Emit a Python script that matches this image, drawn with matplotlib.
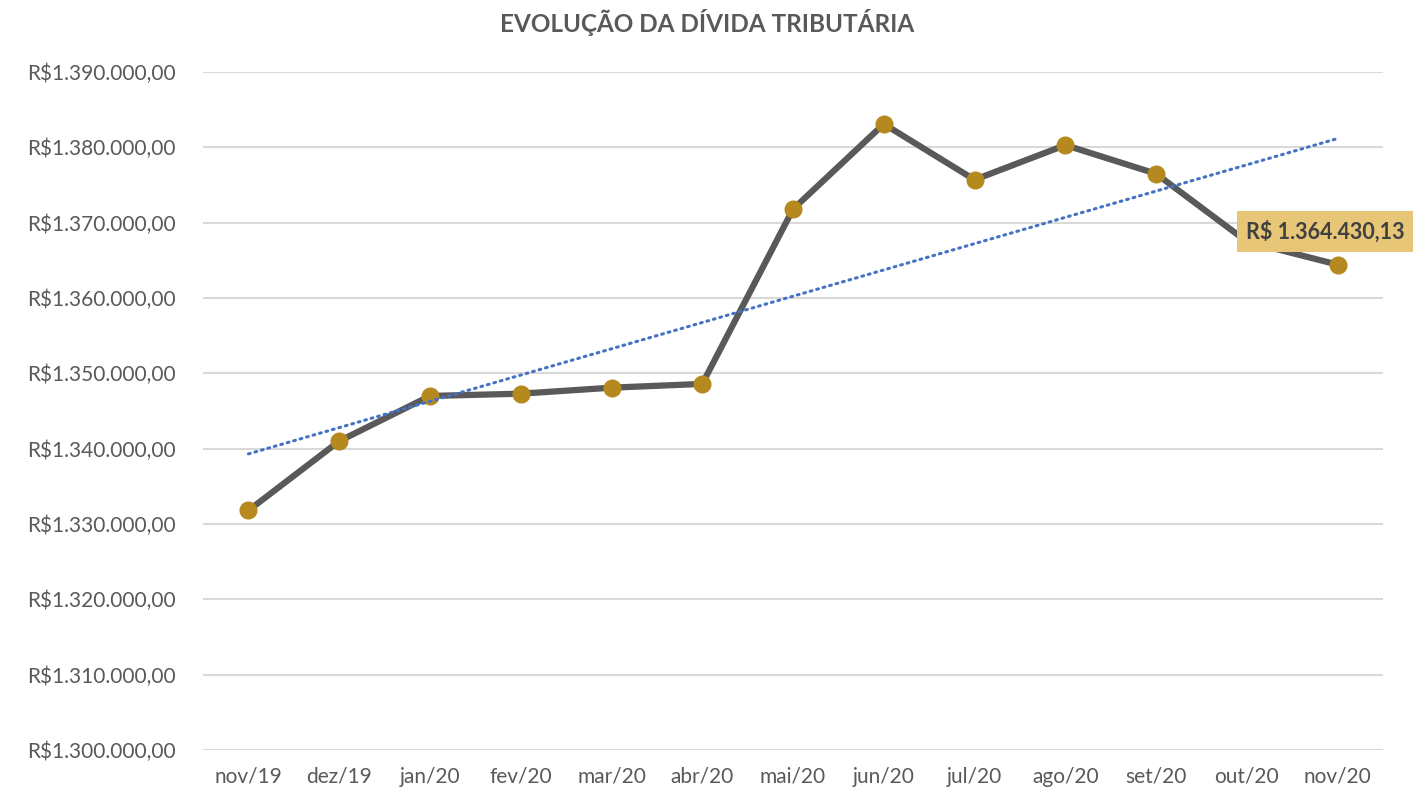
import numpy as np
import matplotlib.pyplot as plt
from matplotlib.ticker import FuncFormatter

months = ['nov/19', 'dez/19', 'jan/20', 'fev/20', 'mar/20', 'abr/20', 'mai/20',
          'jun/20', 'jul/20', 'ago/20', 'set/20', 'out/20', 'nov/20']
divida = [1331800, 1341000, 1347000, 1347300, 1348100, 1348600, 1371800,
          1383100, 1375700, 1380300, 1376500, 1367500, 1364430.13]
y_ticks = list(range(1300000, 1390001, 10000))

plt.rcParams['font.family'] = ['Lato', 'DejaVu Sans']

def brl(v, pos=None):
    s = f"{v:,.2f}".replace(',', 'X').replace('.', ',').replace('X', '.')
    return 'R$' + s

fig = plt.figure(figsize=(14.28, 7.95), dpi=100)
ax = fig.add_axes([0.1422, 0.0566, 0.8263, 0.8528])

x = np.arange(len(months))
ax.plot(x, divida, color='#595959', lw=4.5, marker='o', markersize=12,
        markerfacecolor='#B5891E', markeredgecolor='#B5891E', zorder=3)

# linear trendline
coef = np.polyfit(x, divida, 1)
ax.plot(x, np.polyval(coef, x), color='#4472C4', lw=2.2, linestyle=(0, (0.6, 1.6)),
        dash_capstyle='round', zorder=4)

ax.annotate(brl(divida[-1]).replace('R$', 'R$ '), xy=(x[-1], divida[-1]),
            xytext=(-9, 24), textcoords='offset points', ha='center', va='center',
            fontsize=15.5, fontweight='bold', color='#404040', zorder=6,
            bbox=dict(boxstyle='square,pad=0.42', fc='#E8C677', ec='none'))

ax.set_xlim(-0.5, len(months) - 0.5)
ax.set_ylim(1300000, 1390000)
ax.set_yticks(y_ticks)
ax.yaxis.set_major_formatter(FuncFormatter(brl))
ax.set_xticks(x)
ax.set_xticklabels(months)
ax.grid(axis='y', color='#D9D9D9', lw=1.5, zorder=0)
ax.set_axisbelow(True)
for s in ax.spines.values():
    s.set_visible(False)
ax.tick_params(length=0, labelsize=15, colors='#595959')
ax.tick_params(axis='y', pad=20)
ax.tick_params(axis='x', pad=12)

fig.text(0.495, 0.972, 'EVOLUÇÃO DA DÍVIDA TRIBUTÁRIA', ha='center', va='center',
         fontsize=17.5, fontweight='bold', color='#595959')

fig.savefig('out.png', dpi=100)
